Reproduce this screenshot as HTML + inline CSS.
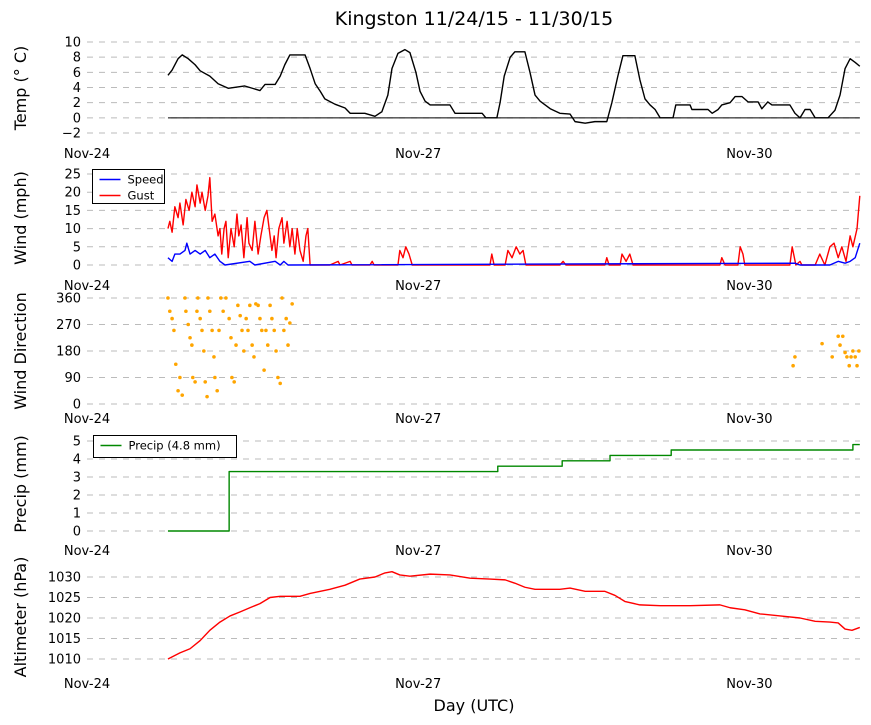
<!DOCTYPE html>
<html><head><meta charset="utf-8">
<style>
body{margin:0;background:#fff;}
svg{display:block;font-family:"DejaVu Sans","Liberation Sans",sans-serif;}
</style></head>
<body>
<svg id="chart" width="871" height="725" viewBox="0 0 871 725" xmlns="http://www.w3.org/2000/svg"></svg>
<script>
// ---- data (hours since Nov-24 00:00 UTC) ----
const dayTickLabels = ["Nov-24","Nov-27","Nov-30"];
const dayTickHours = [0,72,144];
const tempTime = [17.6,18.5,19.8,20.7,22,23.5,24.6,26.7,28.5,30.7,34.3,37.6,38.7,40.9,42,43,44.1,47.4,48.5,49.6,50.7,51.7,53.9,56.1,57.2,60.4,62.6,64.1,65.4,66.3,67.6,69.1,70.2,71.5,72.4,73.5,74.6,78.9,80,85.9,86.7,89.1,89.8,90.7,92,93,95.2,96.3,97.4,98.5,99.6,100.7,102.8,105,106.1,108.3,110.4,113,114.1,115.4,116.5,119.1,120.2,121.3,122.4,123.5,124.6,127.4,128,131.1,131.5,135,135.9,137.2,138,139.8,140.9,142.4,143.7,145.9,146.7,148,148.9,152.8,153.9,155,156.1,157.2,158.3,161.1,162.6,163.7,164.8,165.9,167,168];
const tempValue = [5.6,6.3,7.8,8.3,7.8,7,6.2,5.5,4.5,3.9,4.2,3.6,4.4,4.4,5.5,7,8.3,8.3,6.5,4.5,3.5,2.5,1.8,1.3,0.6,0.6,0.2,0.8,3,6.5,8.5,9,8.6,6,3.5,2.2,1.7,1.7,0.6,0.6,0,0,2,5.5,8,8.7,8.7,6,3,2.2,1.7,1.2,0.6,0.5,-0.5,-0.7,-0.5,-0.5,2,5.5,8.2,8.2,5,2.5,1.7,1.1,0,0,1.7,1.7,1.1,1.1,0.6,1.1,1.7,2,2.8,2.8,2.1,2.1,1.2,2.1,1.7,1.7,0.6,0,1.1,1.1,0,0,1,3,6.5,7.8,7.3,6.8];
const gustTime = [17.6,18.0,18.5,19.1,19.8,20.2,20.9,21.5,22.2,22.8,23.5,23.9,24.6,25,25.7,26.3,26.7,27.2,27.8,28.5,28.9,29.3,29.8,30.2,30.7,31.3,32,32.6,33,33.5,34.1,34.8,35.2,35.9,36.5,37.2,37.8,38.5,39.1,39.6,40.2,40.7,41.1,41.7,42.4,42.8,43.5,44.1,44.6,45.2,45.7,46.3,47,47.6,48,48.5,
52.8,54.6,55,57.2,57.6,61.5,62,62.4,67.6,68,68.7,69.3,70,70.7,87.6,88,88.5,90.9,91.5,92.4,93.3,94.1,94.8,95.4,102.8,103.5,104.1,112.6,113,113.5,115.9,116.3,117.2,118,118.7,137.6,138,138.7,141.5,142,142.6,143,152.8,153.3,154.1,155,155.4,158.3,159.3,160.4,161.5,162.4,163.3,164.1,165,165.9,166.5,167.4,168];
const gustValue = [10,12,9,16,13,17,11,18,15,20,16,22,17,20,15,19,24,12,14,8,10,3,10,12,2,10,5,14,8,11,2,13,6,4,12,3,8,13,15,10,4,8,2,10,13,6,12,5,10,3,10,4,1,8,10,0,
0,1,0,1,0,0,1,0,0,4,2,5,3,0,0,3,0,0,4,2,5,3,4,0,0,1,0,0,2,0,0,3,1,3,0,0,2,0,0,5,3,0,0,5,0,1,0,0,3,0,5,6,2,5,1,8,5,10,19];
const speedTime = [17.6,18.5,19.1,20.2,21.3,21.7,22.4,23.5,24.6,25.7,26.7,27.8,28.9,30,35.4,36.5,40.9,42,42.8,43.7,153.9,155,161.5,163.3,164.8,165.9,167,168];
const speedValue = [2,1,3,3,4,6,3,4,3,4,2,3,1,0,1,0,1,0,1,0,0.5,0,0,1,0.5,1,2,6];
const dirTime = [17.6,18.0,18.5,18.9,19.3,19.8,20.2,20.7,21.3,21.5,22.0,22.4,22.8,23.0,23.5,23.9,24.1,24.6,25.0,25.4,25.7,26.1,26.3,26.7,27.2,27.6,27.8,28.3,28.7,29.1,29.6,30.2,30.9,31.3,31.5,32.0,32.4,32.8,33.3,33.7,34.1,34.6,35.0,35.4,35.9,36.3,36.7,37.2,37.6,38.0,38.5,38.9,39.3,39.8,40.2,40.7,41.1,41.5,42.0,42.4,42.8,43.3,43.7,44.1,44.6,
153.5,153.9,159.8,162,163.3,163.7,164.3,164.8,165.2,165.7,166.1,166.5,167,167.4,167.8];
const dirValue = [360,315,290,250,135,45,90,30,360,315,270,225,200,90,75,315,360,290,250,180,75,25,360,315,250,160,90,45,250,360,315,360,290,225,90,75,200,335,300,250,180,290,250,335,200,160,340,335,290,250,115,250,200,335,290,250,180,90,70,360,250,290,200,275,340,
130,160,205,160,230,200,230,175,160,130,160,180,160,130,180];
const precipTime = [17.6,30.9,89.3,103.3,113.7,127,166.5,168];
const precipValue = [0,3.3,3.6,3.9,4.2,4.5,4.8,4.8];
const altTime = [17.6,20.2,22.4,24.6,26.7,28.9,31.1,33.3,35.4,37.6,39.8,42,46.3,48.5,52.8,56.1,59.3,62.6,64.8,66.3,68,70.2,74.6,78.9,83.3,87.6,90.9,93,95.2,97.4,102.8,105,108.3,112.6,114.8,117,120.2,124.6,131.1,137.6,139.8,143,146.3,150.7,155,158.3,161.5,163.3,164.8,166.3,168];
const altValue = [1010,1011.5,1012.5,1014.5,1017,1019,1020.5,1021.5,1022.5,1023.5,1025,1025.3,1025.3,1026,1027,1028,1029.5,1030,1031,1031.3,1030.5,1030.2,1030.7,1030.5,1029.7,1029.5,1029.3,1028.5,1027.5,1027,1027,1027.3,1026.5,1026.5,1025.5,1024,1023.2,1023,1023,1023.2,1022.5,1022,1021,1020.5,1020,1019.2,1019,1018.8,1017.3,1017,1017.7];
const tempTicks=[-2,0,2,4,6,8,10], windTicks=[0,5,10,15,20,25], dirTicks=[0,90,180,270,360], precipTicks=[0,1,2,3,4,5], altTicks=[1010,1015,1020,1025,1030];

const NS="http://www.w3.org/2000/svg";
const svg=document.getElementById('chart');
function el(tag,attrs,parent){const e=document.createElementNS(NS,tag);for(const k in attrs)e.setAttribute(k,attrs[k]);(parent||svg).appendChild(e);return e;}
const X0=87, PXH=110.4/24, XR=860;
const xs=h=>X0+h*PXH;
function mkY(v0,y0,v1,y1){return v=>y0+(v-v0)*(y1-y0)/(v1-v0);}

const panels=[
 {name:'temp',title:'Temp (° C)',ticks:tempTicks,y:mkY(10,42,-2,133),cy:88,dateY:158},
 {name:'wind',title:'Wind (mph)',ticks:windTicks,y:mkY(25,174,0,265),cy:218,dateY:290},
 {name:'wind-direction',title:'Wind Direction',ticks:dirTicks,y:mkY(360,298,0,404),cy:351,dateY:423},
 {name:'precip',title:'Precip (mm)',ticks:precipTicks,y:mkY(5,441,0,531),cy:484,dateY:555},
 {name:'altimeter',title:'Altimeter (hPa)',ticks:altTicks,y:mkY(1030,577,1010,659),cy:617,dateY:688}
];
const t=el('text',{x:474,y:25,'text-anchor':'middle','font-size':19,fill:'#000'});


t.textContent='Kingston 11/24/15 - 11/30/15';
const xt=el('text',{x:474,y:711,'text-anchor':'middle','font-size':16,fill:'#000'});


xt.textContent='Day (UTC)';

panels.forEach(p=>{
 const g=el('g',{});
 
 
 p.g=g;
 p.ticks.forEach(v=>{
  const yy=p.y(v);
  const gl=el('line',{x1:X0,x2:XR,y1:yy,y2:yy,stroke:'#bbb','stroke-width':1,'stroke-dasharray':'6,6'},g);
  
  
  const tl=el('text',{x:81,y:yy+4.5,'text-anchor':'end','font-size':13,fill:'#000'},g);
  
  
  tl.textContent=v<0?'\u2212'+(-v):String(v);
 });
 dayTickHours.forEach((h,i)=>{
  const dl=el('text',{x:xs(h),y:p.dateY,'text-anchor':'middle','font-size':13,fill:'#000'},g);
  
  
  dl.textContent=dayTickLabels[i];
 });
 const yt=el('text',{x:0,y:0,'text-anchor':'middle','font-size':16,fill:'#000',transform:`translate(26,${p.cy}) rotate(-90)`},g);
 
 
 yt.textContent=p.title;
});
function line(p,T,V,color,name,step){
 let d='';
 T.forEach((h,i)=>{const x=xs(h),y=p.y(V[i]);
  if(i===0)d+=`M${x},${y}`;else if(step)d+=`H${x}V${y}`;else d+=`L${x},${y}`;});
 const e=el('path',{d,fill:'none',stroke:color,'stroke-width':1.4,'stroke-linejoin':'round'},p.g);
 
 
}
// temp zero line
const zl=el('line',{x1:xs(tempTime[0]),x2:xs(tempTime[tempTime.length-1]),y1:panels[0].y(0),y2:panels[0].y(0),stroke:'#000','stroke-width':1},panels[0].g);


line(panels[0],tempTime,tempValue,'#000','temp-line');
line(panels[1],gustTime,gustValue,'#f00','gust-line');
line(panels[1],speedTime,speedValue,'#00f','speed-line');
dirTime.forEach((h,i)=>{
 const c=el('circle',{cx:xs(h),cy:panels[2].y(dirValue[i]),r:1.8,fill:'#ffa500'},panels[2].g);
 
 
});
line(panels[3],precipTime,precipValue,'#080','precip-line',true);
line(panels[4],altTime,altValue,'#f00','altimeter-line');
// legends
function legend(x,y,w,h,items,p){
 const lg=el('g',{},p.g);
 
 
 el('rect',{x,y,width:w,height:h,fill:'#fff',stroke:'#000','stroke-width':1},lg);
 items.forEach((it,i)=>{
  const yy=y+10+i*16;
  el('line',{x1:x+7,x2:x+28,y1:yy,y2:yy,stroke:it[1],'stroke-width':1.4},lg);
  const tx=el('text',{x:x+35,y:yy+4,'font-size':11.5,fill:'#000'},lg);
  
  
  tx.textContent=it[0];
 });
}
legend(92.5,169.5,72,34,[['Speed','#00f'],['Gust','#f00']],panels[1]);
legend(93.5,435.5,143,22,[['Precip (4.8 mm)','#080']],panels[3]);
</script>
</body></html>
